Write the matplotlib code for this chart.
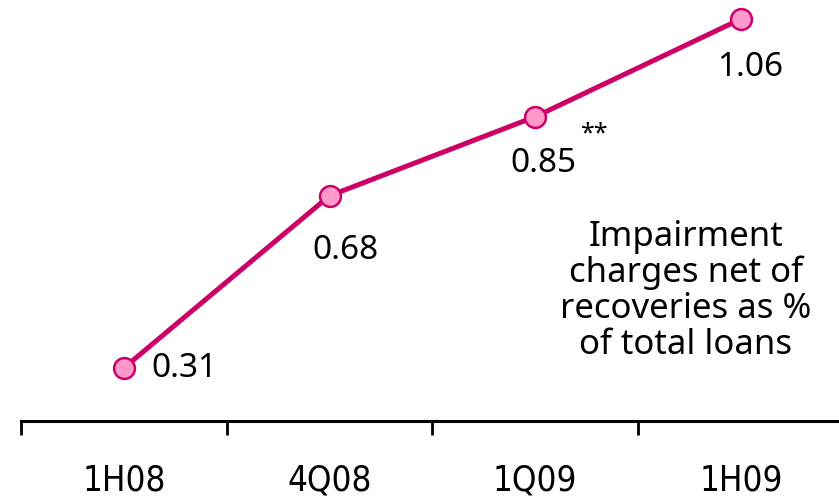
import matplotlib.pyplot as plt
from matplotlib import font_manager

# data
periods = ["1H08", "4Q08", "1Q09", "1H09"]
impairment = [0.31, 0.68, 0.85, 1.06]
value_labels = ["0.31", "0.68", "0.85", "1.06"]

names = {f.name for f in font_manager.fontManager.ttflist}
if "Liberation Sans Narrow" in names:
    cat_font = dict(family="Liberation Sans Narrow")
else:
    cat_font = dict(family="DejaVu Sans", fontstretch="condensed")

line_col = "#CC0066"
marker_col = "#FF99CC"

fig = plt.figure(figsize=(8.39, 5.02), dpi=100)
ax = fig.add_axes([21 / 839, 1 - 422 / 502, 818 / 839, 422 / 502])

x = list(range(len(periods)))
ax.plot(x, impairment, color=line_col, linewidth=3.6, marker="o", markersize=15,
        markerfacecolor=marker_col, markeredgecolor=line_col, markeredgewidth=1.8,
        solid_capstyle="round", zorder=3)

# value labels (offsets in points)
lab_font = dict(family="Noto Sans", fontsize=24, color="black")
offsets = [(20, 0), (11.5, -39), (6, -33), (6.5, -34)]
for i in range(len(x)):
    ax.annotate(value_labels[i], (x[i], impairment[i]), xytext=offsets[i],
                textcoords="offset points", ha="left" if i == 0 else "center",
                va="center", **lab_font)
ax.annotate("**", (x[2], impairment[2]), xytext=(43, -11.5), textcoords="offset points",
            ha="center", va="center", family="Noto Sans", fontsize=18, fontweight="bold")

fig.text(686 / 839, 1 - 291 / 502, "Impairment\ncharges net of\nrecoveries as %\nof total loans",
         ha="center", va="center", family="Noto Sans", fontsize=25, linespacing=1.08)

ax.set_xlim(-0.5, -0.5 + 818 / 205.7)
ax.set_ylim(0.196, 1.103)

for s in ["top", "right", "left"]:
    ax.spines[s].set_visible(False)
ax.spines["bottom"].set_linewidth(2.2)
ax.set_yticks([])
ax.set_xticks([-0.5, 0.5, 1.5, 2.5])
ax.set_xticklabels([])
ax.tick_params(axis="x", direction="out", length=10, width=2, color="black")
ax.set_xticks(x, minor=True)
ax.set_xticklabels(periods, minor=True, fontsize=25, **cat_font)
ax.tick_params(axis="x", which="minor", length=0, pad=30)

fig.savefig("out.png", dpi=100)
